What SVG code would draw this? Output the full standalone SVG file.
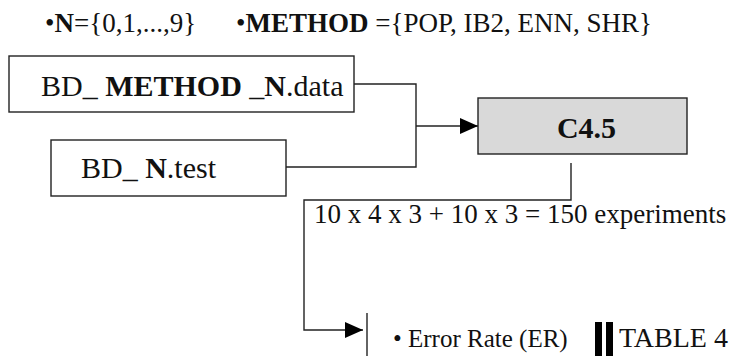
<svg xmlns="http://www.w3.org/2000/svg" width="737" height="356" viewBox="0 0 737 356">
<style>
text{font-family:"Liberation Serif","Times New Roman",serif;fill:#111}
.b{font-weight:bold}
.box{fill:#fff;stroke:#222;stroke-width:1.4}
.gray{fill:#d9d9d9;stroke:#222;stroke-width:1.4}
.ln{fill:none;stroke:#222;stroke-width:1.4}
</style>
<defs>
<marker id="ah" markerWidth="18" markerHeight="16" refX="18" refY="8" orient="auto" markerUnits="userSpaceOnUse">
<path d="M0,0 L18,8 L0,16 Z" fill="#000"/>
</marker>
</defs>
<g id="legend">
<text x="45" y="32" font-size="27">•<tspan class="b">N</tspan>={0,1,...,9}</text>
<text x="236" y="32" font-size="27">•<tspan class="b">METHOD</tspan> ={POP, IB2, ENN, SHR}</text>
</g>
<g id="connectors">
<polyline class="ln" points="354,84 416,84 416,167 286,167"/>
<line class="ln" x1="416" y1="126" x2="478" y2="126" marker-end="url(#ah)"/>
<polyline class="ln" points="571,163 571,200 304,200 304,330 363,330" marker-end="url(#ah)"/>
<line class="ln" x1="367" y1="313" x2="367" y2="356"/>
</g>
<g id="node-data">
<rect class="box" x="9" y="56" width="345" height="56"/>
<text x="41" y="96" font-size="30">BD_ <tspan class="b">METHOD</tspan> _<tspan class="b">N</tspan>.data</text>
</g>
<g id="node-test">
<rect class="box" x="51" y="140" width="235" height="56"/>
<text x="81" y="178" font-size="30">BD_ <tspan class="b">N</tspan>.test</text>
</g>
<g id="node-c45">
<rect class="gray" x="478" y="98" width="209" height="56"/>
<text x="586.5" y="138" font-size="30" class="b" text-anchor="middle">C4.5</text>
</g>
<g id="label-experiments">
<text x="314" y="223" font-size="27">10 x 4 x 3 + 10 x 3 = 150 experiments</text>
</g>
<g id="node-result">
<text x="393" y="347" font-size="25">• Error Rate (ER)</text>
<rect x="595" y="322" width="7" height="34" fill="#000"/>
<rect x="606" y="322" width="7" height="34" fill="#000"/>
<text x="619" y="347" font-size="28">TABLE 4</text>
</g>
</svg>
